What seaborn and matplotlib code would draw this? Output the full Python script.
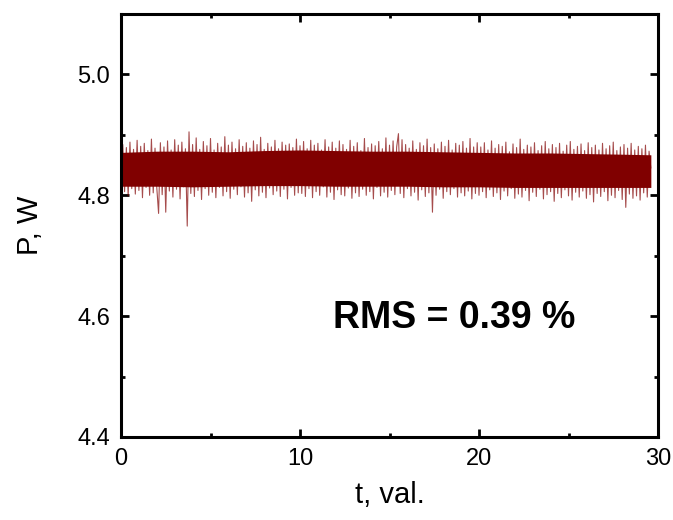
import numpy as np
import pandas as pd
import matplotlib
matplotlib.use("Agg")
import matplotlib.pyplot as plt
import seaborn as sns
from matplotlib.ticker import MultipleLocator

# ---- data (power trace, W) ----
p_seg1 = [
    4.846, 4.884, 4.806, 4.879, 4.799, 4.888, 4.811, 4.876, 4.802, 4.891,
    4.808, 4.881, 4.796, 4.886, 4.813, 4.874, 4.800, 4.893, 4.804, 4.878,
    4.812, 4.770, 4.887, 4.801, 4.880, 4.772, 4.890, 4.807, 4.875, 4.797,
    4.892, 4.810, 4.883, 4.794, 4.888, 4.814, 4.877, 4.749, 4.905, 4.803,
    4.884, 4.798, 4.895, 4.808, 4.876, 4.793, 4.889, 4.811, 4.882, 4.800,
    4.894, 4.805, 4.875, 4.796, 4.886, 4.813, 4.880, 4.799, 4.897, 4.806,
    4.883, 4.795, 4.888, 4.810, 4.877, 4.801, 4.892, 4.814, 4.881, 4.797,
    4.887, 4.804, 4.878, 4.790, 4.890, 4.809, 4.884, 4.799, 4.896, 4.805,
    4.876, 4.796, 4.886, 4.812, 4.880, 4.801, 4.891, 4.807, 4.877, 4.798,
    4.888, 4.810, 4.883, 4.794, 4.885, 4.813, 4.879, 4.800, 4.893, 4.804,
]
p_seg2 = [
    4.882, 4.803, 4.889, 4.798, 4.877, 4.811, 4.891, 4.796, 4.883, 4.806,
    4.886, 4.800, 4.875, 4.814, 4.892, 4.797, 4.880, 4.805, 4.888, 4.793,
    4.878, 4.809, 4.890, 4.801, 4.884, 4.799, 4.876, 4.812, 4.891, 4.795,
    4.881, 4.804, 4.887, 4.798, 4.874, 4.810, 4.894, 4.800, 4.879, 4.806,
    4.885, 4.794, 4.882, 4.813, 4.889, 4.799, 4.877, 4.805, 4.895, 4.797,
    4.883, 4.808, 4.890, 4.801, 4.880, 4.902, 4.803, 4.892, 4.796, 4.884,
    4.811, 4.878, 4.799, 4.890, 4.805, 4.876, 4.792, 4.887, 4.809, 4.882,
    4.798, 4.893, 4.804, 4.879, 4.772, 4.885, 4.800, 4.877, 4.810, 4.888,
    4.795, 4.881, 4.806, 4.891, 4.801, 4.875, 4.811, 4.886, 4.797, 4.883,
    4.804, 4.889, 4.799, 4.878, 4.807, 4.894, 4.794, 4.880, 4.803, 4.887,
]
p_seg3 = [
    4.800, 4.880, 4.806, 4.887, 4.796, 4.875, 4.809, 4.890, 4.798, 4.878,
    4.804, 4.884, 4.793, 4.881, 4.807, 4.888, 4.799, 4.872, 4.811, 4.885,
    4.795, 4.879, 4.802, 4.893, 4.797, 4.876, 4.808, 4.883, 4.791, 4.880,
    4.805, 4.887, 4.798, 4.874, 4.810, 4.882, 4.794, 4.889, 4.801, 4.877,
    4.806, 4.884, 4.790, 4.879, 4.803, 4.886, 4.796, 4.873, 4.809, 4.883,
    4.799, 4.889, 4.792, 4.876, 4.805, 4.881, 4.797, 4.885, 4.807, 4.874,
    4.795, 4.887, 4.801, 4.879, 4.789, 4.883, 4.803, 4.875, 4.798, 4.886,
    4.806, 4.877, 4.791, 4.882, 4.800, 4.888, 4.796, 4.874, 4.808, 4.880,
    4.793, 4.884, 4.780, 4.878, 4.802, 4.886, 4.795, 4.875, 4.799, 4.881,
    4.792, 4.877, 4.804, 4.883, 4.797, 4.873, 4.845,
]
t_start, t_end = 0.0, 29.6

# dense core of the noise band (solid region), read every 2 s
core_t = [0, 2, 4, 6, 8, 10, 12, 14, 16, 18, 20, 22, 24, 26, 28, 29.6]
core_hi = [4.871, 4.873, 4.873, 4.872, 4.874, 4.875, 4.874, 4.873, 4.873,
           4.872, 4.871, 4.870, 4.870, 4.869, 4.868, 4.867]
core_lo = [4.815, 4.815, 4.814, 4.815, 4.816, 4.816, 4.815, 4.815, 4.815,
           4.814, 4.814, 4.813, 4.813, 4.813, 4.813, 4.813]

x_ticks = [0, 10, 20, 30]
y_ticks = [4.4, 4.6, 4.8, 5.0]
x_label = "t, val."
y_label = "P, W"
annotation = "RMS = 0.39 %"

power = p_seg1 + p_seg2 + p_seg3
time = np.linspace(t_start, t_end, len(power))
df = pd.DataFrame({"t": time, "P": power})

sns.set_theme(style="ticks")
plt.rcParams["font.family"] = ["Liberation Sans", "DejaVu Sans"]

fig = plt.figure(figsize=(6.73, 5.2), dpi=100)
ax = fig.add_axes([121 / 673, 1 - 437 / 520, (658 - 121) / 673, (437 - 14) / 520])

trace_color = "#800000"
sns.lineplot(data=df, x="t", y="P", ax=ax, color=trace_color, linewidth=0.8,
             alpha=0.7, estimator=None, sort=False)
ax.fill_between(core_t, core_lo, core_hi, color=trace_color, linewidth=0)

ax.set_xlim(0, 30)
ax.set_ylim(4.4, 5.1)
ax.set_xticks(x_ticks)
ax.set_yticks(y_ticks)
ax.set_xticklabels([str(v) for v in x_ticks])
ax.set_yticklabels([f"{v:.1f}" for v in y_ticks])
ax.xaxis.set_minor_locator(MultipleLocator(5))
ax.yaxis.set_minor_locator(MultipleLocator(0.1))

for s in ax.spines.values():
    s.set_visible(True)
    s.set_linewidth(2.2)
    s.set_color("black")

ax.tick_params(which="both", direction="in", top=True, right=True,
               color="black", width=2.0)
ax.tick_params(which="major", length=6, labelsize=17, pad=8, labelcolor="black")
ax.tick_params(which="minor", length=3)

ax.set_xlabel(x_label, fontsize=21, labelpad=8, color="black")
ax.set_ylabel(y_label, fontsize=21, labelpad=24, color="black")

ax.text(18.6, 4.58, annotation, fontsize=27, fontweight="bold",
        ha="center", va="baseline", color="black")

fig.savefig("out.png", dpi=100)
